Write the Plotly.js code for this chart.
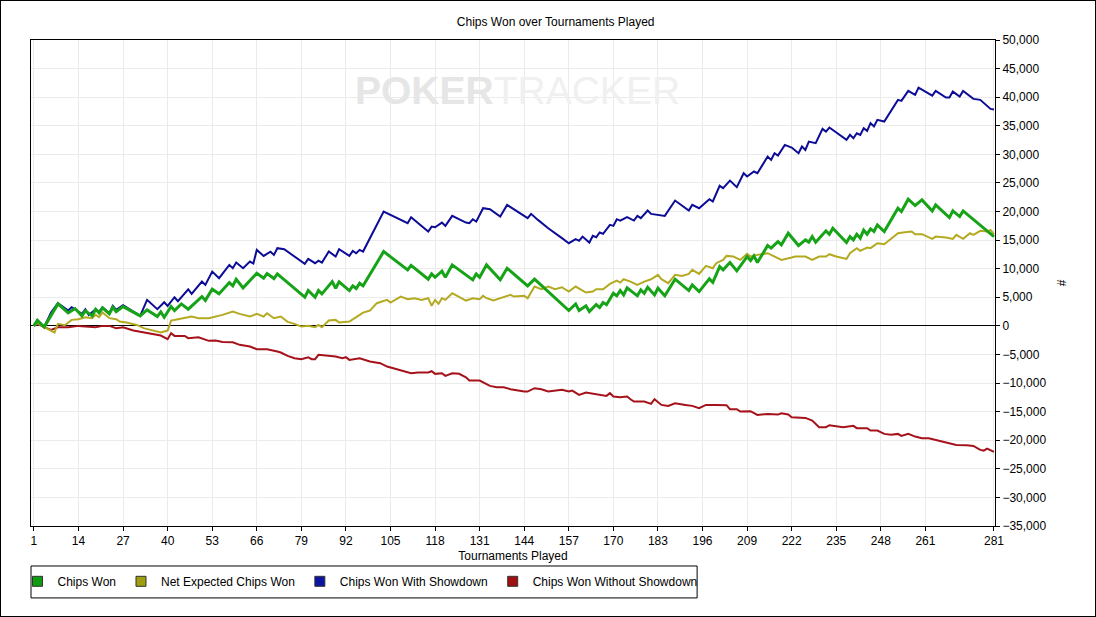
<!DOCTYPE html>
<html>
<head>
<meta charset="utf-8">
<script src="https://cdn.plot.ly/plotly-3.0.1.min.js"></script>
<style>
  body { margin: 0; background: #fff; }
  #wrap { position: relative; width: 1096px; height: 617px; }
  #frame { position: absolute; left: 0; top: 0; width: 1094px; height: 615px; border: 1px solid #000; pointer-events: none; }
</style>
</head>
<body>
<div id="wrap">
  <div id="chart"></div>
  <div id="frame"></div>
</div>
<script>
// tournament numbers / chip counts
const tickVals = [1, 14, 27, 40, 53, 66, 79, 92, 105, 118, 131, 144, 157, 170, 183, 196, 209, 222, 235, 248, 261, 281];

const wonX = [1,2,4,8,11,13,15,16,18,19,20,21,23,24,25,27,32,34,37,38,39,41,42,44,46,50,51,53,55,58,59,60,62,66,68,69,71,72,80,81,83,84,85,88,89,90,93,94,95,96,97,103,110,111,116,117,118,120,121,123,129,130,131,133,137,139,145,147,157,159,160,162,163,165,166,167,168,170,171,172,173,174,177,178,179,180,182,183,185,188,192,193,195,198,199,201,202,204,206,209,210,211,212,215,216,218,219,221,224,226,227,228,229,232,233,234,238,239,240,241,242,243,244,245,246,247,249,253,254,256,258,260,263,264,268,269,271,272,281];
const wonY = [0,950,-200,3850,2270,3030,1750,2620,1750,2900,2270,3150,2100,3260,2500,3380,1750,2800,1630,2450,1520,3380,2680,3850,2920,5130,4460,6410,5600,7570,7000,8160,6650,9200,8340,9150,8280,9100,5010,6180,5010,6180,5600,7750,6590,7700,6180,7000,6530,7460,7000,13000,9800,10600,8170,9100,8500,9560,8500,10670,8050,9100,8500,10670,8050,10090,7000,8170,2680,3850,2680,3500,2500,3730,3200,4080,3700,5710,5250,6180,5420,6650,5250,6300,5700,6760,5420,6590,5250,8170,6180,7170,6000,8220,7600,10370,9800,11070,9620,12120,11430,12240,11070,14050,13600,14750,14170,16210,14050,15040,14650,15620,14640,16620,16030,17080,14580,15620,15040,16040,15350,16740,16040,16970,16500,17660,16500,20580,20000,22150,21040,22040,20110,21160,18940,20110,19120,20110,15600];

const expX = [1,2,4,7,8,10,12,14,16,18,19,20,21,23,25,26,28,31,33,36,38,40,41,43,45,47,49,52,56,59,61,64,66,68,69,71,73,75,77,79,81,83,84,85,87,89,90,93,95,97,99,101,104,105,108,110,112,114,116,117,118,119,120,121,123,125,127,129,131,132,133,135,137,140,141,144,145,147,149,151,153,155,157,159,162,164,165,167,169,171,172,173,175,177,179,181,183,184,186,188,190,192,193,195,197,199,200,202,203,205,207,209,210,212,215,217,219,222,223,226,228,230,232,233,235,238,239,241,242,244,245,247,249,250,253,255,257,258,260,263,264,267,269,270,272,274,275,277,279,280,281];
const expY = [0,500,-200,-1170,350,120,1050,1170,1520,1350,1920,1520,2330,1350,1170,760,580,170,-400,-820,-1170,-820,930,1170,1340,1630,1340,1340,1920,2500,2100,1630,2100,1630,2210,1340,1630,700,350,-120,0,-230,170,-230,930,1050,580,760,1520,2330,2680,3970,4550,4080,5130,4660,4840,4550,4840,3500,4550,3850,4840,4550,5710,5130,4430,4840,4660,5250,4840,4430,4840,5420,5130,5250,4840,6880,6410,6880,6410,6760,6000,6880,5830,6000,6410,6410,7340,7930,7570,8160,7750,7170,7750,8160,8920,8160,7460,8920,8740,9100,9800,9100,10490,10090,10960,11540,12240,12120,11540,12590,12120,12420,12710,12130,11540,11950,12130,12130,11540,12130,12130,12540,12130,11720,12710,13590,13120,13700,13590,14460,14290,14750,16210,16390,16500,16040,16040,15220,15620,15450,15220,15920,15220,16210,15920,16620,16500,16790,16040];

const sdX = [1,2,4,6,8,11,12,15,16,17,19,20,21,23,24,25,27,32,34,37,39,40,42,43,46,47,50,51,53,55,58,59,60,62,64,65,66,68,70,71,72,74,80,81,83,84,85,87,89,90,93,94,95,96,97,103,110,111,116,117,118,120,121,123,127,128,129,130,132,134,137,139,145,146,148,151,155,157,159,160,161,163,164,165,166,167,169,170,171,172,174,176,177,178,180,181,185,188,192,193,195,198,199,201,202,204,206,208,209,211,212,215,216,217,218,220,222,224,225,226,227,229,231,232,233,238,239,240,241,242,243,244,245,246,247,249,253,254,256,258,259,263,264,267,268,269,271,272,275,277,280,281];
const sdY = [0,1000,-200,2330,3970,2680,3260,2100,2920,1920,2920,2450,3260,2210,3500,2800,3610,1750,4550,2920,4140,3500,5010,4320,6410,5600,7750,7170,9500,8340,10670,10090,11070,10090,11250,10900,13290,12240,12980,12420,13590,13410,10840,11710,10960,11420,11070,13000,12120,13410,12240,13120,12700,13290,13000,19990,17960,19010,16500,17370,17250,18070,17490,19240,18070,17960,18650,18240,20580,20400,19120,21160,18840,19590,18540,17080,15340,14460,15160,14870,15620,14570,15740,15500,16330,16090,17660,17490,18660,18420,19010,18420,19240,18840,20170,19590,19240,21920,20170,21160,20580,22150,21750,24490,24080,25410,24260,26700,26120,27000,26700,29610,29030,30200,29790,31660,31190,30200,31370,30780,32230,31950,34460,33990,34690,32530,33400,32810,33690,33400,34570,34110,35450,34880,36030,35740,39530,39350,41100,40400,41680,40280,41100,39930,39930,40980,40110,41100,39700,39530,37950,37830];

const nsdX = [1,2,4,6,8,11,14,17,19,21,23,25,27,30,33,36,38,40,41,42,45,46,49,52,54,56,59,61,64,66,69,72,73,75,77,79,81,82,83,84,87,89,91,92,93,95,96,99,102,104,107,109,111,113,116,117,118,120,121,123,125,127,128,131,132,134,136,138,140,142,144,145,147,149,151,155,157,158,160,162,165,168,169,170,172,174,175,176,179,181,182,184,186,188,191,193,195,197,200,203,204,206,207,210,212,215,218,219,221,222,226,228,230,232,233,236,237,240,241,244,245,247,249,251,253,254,256,258,260,262,264,266,268,270,273,275,277,278,279,280,281];
const nsdY = [0,350,-230,-700,-230,-230,0,-120,-230,0,0,-400,-230,-820,-1170,-1570,-1690,-2330,-1280,-1750,-1750,-2150,-1980,-2620,-2560,-2800,-2860,-3320,-3610,-4080,-4080,-4490,-4660,-5250,-5660,-5830,-5480,-5830,-5830,-5070,-5250,-5360,-5660,-5480,-5950,-5830,-5660,-6240,-6530,-7110,-7580,-7990,-8280,-8160,-8160,-7930,-8390,-8280,-8740,-8280,-8390,-8980,-9560,-9560,-9910,-10490,-10730,-10730,-11070,-11310,-11490,-11490,-10900,-11070,-11480,-11190,-11480,-11310,-12070,-11660,-11890,-12240,-11770,-12360,-12480,-12360,-12830,-13240,-13240,-13640,-12830,-13820,-13990,-13530,-13820,-13990,-14400,-13820,-13820,-13870,-14570,-14570,-14990,-14920,-15570,-15390,-15510,-15280,-15510,-15980,-16090,-16560,-17720,-17720,-17370,-17610,-17720,-17490,-17890,-17890,-18310,-18310,-18890,-19060,-18890,-19240,-18890,-19360,-19640,-19640,-19940,-20120,-20520,-20820,-20870,-20990,-21690,-21810,-21460,-21690,-22040];

const seriesNames = ['Chips Won', 'Net Expected Chips Won', 'Chips Won With Showdown', 'Chips Won Without Showdown'];
const lineColors = ['#17a317', '#b3aa22', '#0c0c96', '#a5121a'];
const keyColors = ['#109c10', '#a09e10', '#0a14a0', '#a01010'];

var lines = [
  { x: nsdX, y: nsdY, width: 2 },
  { x: sdX, y: sdY, width: 2 },
  { x: expX, y: expY, width: 2 },
  { x: wonX, y: wonY, width: 3 }
];
var lineIdx = [3, 2, 1, 0];

var data = [];
lines.forEach((l, i) => {
  var k = lineIdx[i];
  data.push({
    x: l.x, y: l.y, type: 'scatter', mode: 'lines',
    line: { color: lineColors[k], width: l.width },
    showlegend: false, hoverinfo: 'skip'
  });
});
// legend keys drawn as small squares like the original
seriesNames.forEach((name, k) => {
  data.push({
    x: [null], y: [null], type: 'scatter', mode: 'markers', name: name,
    marker: { symbol: 'square', size: 10, color: keyColors[k], line: { color: '#333', width: 1 } }
  });
});

var layout = {
  width: 1096, height: 617,
  margin: { l: 31, r: 101, t: 40, b: 91 },
  paper_bgcolor: '#fff', plot_bgcolor: '#fff',
  font: { family: 'Liberation Sans, Arial, sans-serif', size: 12, color: '#000' },
  title: { text: 'Chips Won over Tournaments Played', x: 0.507, xanchor: 'center', y: 0.964, yanchor: 'middle', font: { size: 12 } },
  showlegend: true,
  legend: {
    orientation: 'h', x: -0.014, xanchor: 'left', y: -0.084, yanchor: 'top',
    borderwidth: 0, font: { size: 12 }, itemclick: false, bgcolor: 'rgba(0,0,0,0)'
  },
  shapes: [{
    type: 'rect', xref: 'paper', yref: 'paper', x0: 0, x1: 0.691, y0: -0.0823, y1: -0.148,
    line: { color: '#000', width: 1 }, fillcolor: 'rgba(0,0,0,0)'
  }],
  xaxis: {
    range: [0.15, 281.3], tickvals: tickVals, ticks: 'outside', ticklen: 4, tickcolor: '#000',
    showgrid: true, gridcolor: '#ebebeb', zeroline: false,
    showline: true, linecolor: '#000', mirror: true,
    title: { text: 'Tournaments Played', standoff: 4, font: { size: 12 } }
  },
  yaxis: {
    side: 'right', range: [-35000, 50000], dtick: 5000, tickformat: ',', ticks: 'outside', ticklen: 4, tickcolor: '#000',
    showgrid: true, gridcolor: '#ebebeb',
    zeroline: true, zerolinecolor: '#000', zerolinewidth: 1,
    showline: true, linecolor: '#000', mirror: true,
    title: { text: '#', standoff: 12, font: { size: 12 } }
  },
  annotations: [{
    xref: 'paper', yref: 'paper', x: 0.505, y: 0.897, xanchor: 'center', yanchor: 'middle', showarrow: false,
    text: '<b><span style="color:#e6e6e6">POKER</span></b><span style="color:#f0f0f0">TRACKER</span>',
    font: { size: 39, family: 'Liberation Sans, Arial, sans-serif' }
  }]
};

Plotly.newPlot('chart', data, layout, { displayModeBar: false, staticPlot: true });
</script>
</body>
</html>
